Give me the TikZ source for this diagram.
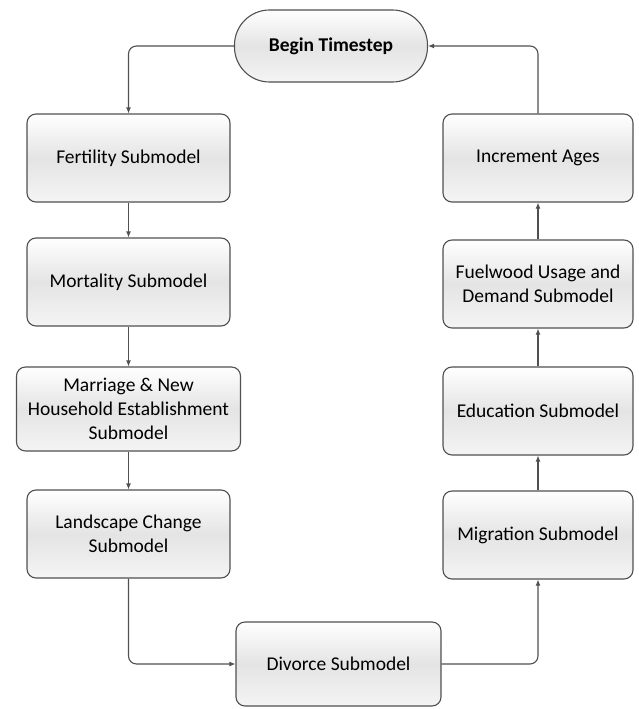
\documentclass[tikz,border=0pt]{standalone}
\usepackage{fontspec}
\setmainfont{Carlito}
\usetikzlibrary{arrows.meta}
\definecolor{linegray}{HTML}{505050}
\definecolor{boxmid}{HTML}{E4E4E4}
\definecolor{boxbot}{HTML}{F4F4F4}
\begin{document}
\begin{tikzpicture}[x=1pt,y=-1pt,
  box/.style={draw=linegray, line width=1.1pt, rounded corners=9pt,
    top color=white, bottom color=boxbot, middle color=boxmid,
    minimum width=203pt, minimum height=88pt, align=center,
    font=\fontsize{19.5}{24}\selectfont, inner sep=2pt},
  term/.style={box, rounded corners=35pt, minimum width=193pt, minimum height=72pt,
    font=\fontsize{19.5}{24}\selectfont\bfseries},
  conn/.style={draw=linegray, line width=1.1pt, rounded corners=8pt,
    -{Latex[length=6pt,width=5pt]}}]
\useasboundingbox (0,0) rectangle (638,709);
\node[term] (begin) at (331,46) {Begin Timestep};
\node[box] (fert) at (128.5,158) {Fertility Submodel};
\node[box] (mort) at (128.5,282) {Mortality Submodel};
\node[box, minimum width=224pt, minimum height=84pt] (marr) at (128.5,409) {Marriage \& New\\Household Establishment\\Submodel};
\node[box] (land) at (128.5,534) {Landscape Change\\Submodel};
\node[box, minimum width=205pt, minimum height=84pt] (div) at (338.5,664) {Divorce Submodel};
\node[box, minimum width=190pt] (migr) at (538,535) {Migration Submodel};
\node[box, minimum width=190pt] (edu) at (538,411) {Education Submodel};
\node[box, minimum width=190pt] (fuel) at (538,284) {Fuelwood Usage and\\Demand Submodel};
\node[box, minimum width=190pt] (incr) at (538,158) {Increment Ages};
\draw[conn] (begin.west) -| (fert.north);
\draw[conn] (fert) -- (mort);
\draw[conn] (mort) -- (marr);
\draw[conn] (marr) -- (land);
\draw[conn] (land.south) |- (div.west);
\draw[conn] (div.east) -| (migr.south);
\draw[conn] (migr) -- (edu);
\draw[conn] (edu) -- (fuel);
\draw[conn] (fuel) -- (incr);
\draw[conn] (incr.north) |- (begin.east);
\end{tikzpicture}
\end{document}
